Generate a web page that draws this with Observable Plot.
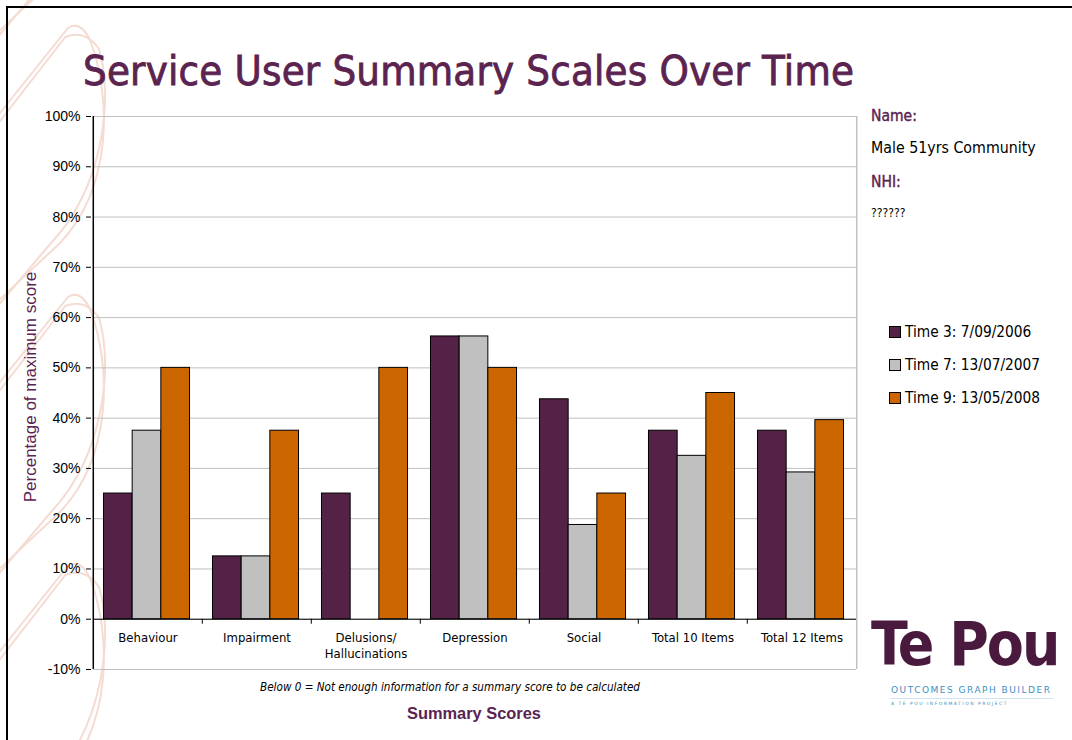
<!DOCTYPE html>
<html>
<head>
<meta charset="utf-8">
<script src="https://cdn.jsdelivr.net/npm/d3@7"></script>
<script src="https://cdn.jsdelivr.net/npm/@observablehq/plot@0.6"></script>
<style>
  html, body { margin: 0; padding: 0; background: #fff; }
  body { width: 1072px; height: 740px; position: relative; overflow: hidden; font-family: "DejaVu Sans", sans-serif; }
  #deco { position: absolute; left: 0; top: 0; }
  #border { position: absolute; left: 6px; top: 6px; width: 1200px; height: 900px; border: 2px solid #000; box-sizing: border-box; }
  #title { position: absolute; left: 83px; top: 47px; margin: 0; font-family: "DejaVu Sans Condensed", "DejaVu Sans", sans-serif; font-weight: normal; font-size: 41.5px; line-height: 48px; color: #5b2350; white-space: nowrap; letter-spacing: 0.2px; -webkit-text-stroke: 0.8px #5b2350; }
  #chart { position: absolute; left: 0; top: 100px; }
  #ylabel { position: absolute; left: 31px; top: 387px; transform: translate(-50%, -50%) rotate(-90deg); font-family: "Liberation Sans", Arial, sans-serif; font-size: 17px; color: #5b2350; white-space: nowrap; }
  #caption { position: absolute; left: 450px; top: 680px; transform: translateX(-50%); font-family: "DejaVu Sans Condensed", "DejaVu Sans", sans-serif; font-style: italic; font-size: 11.6px; color: #000; white-space: nowrap; }
  #xlabel { position: absolute; left: 474px; top: 704px; transform: translateX(-50%); font-family: "Liberation Sans", Arial, sans-serif; font-weight: bold; font-size: 16.4px; color: #5b2350; white-space: nowrap; }
  .info { position: absolute; left: 871px; white-space: nowrap; font-family: "DejaVu Sans Condensed", "DejaVu Sans", sans-serif; }
  .info.head { color: #5b2350; font-size: 15.5px; -webkit-text-stroke: 0.4px #5b2350; }
  .info.val { color: #000; font-size: 15.8px; }
  #legend { position: absolute; left: 889px; top: 322px; font-family: "DejaVu Sans Condensed", "DejaVu Sans", sans-serif; font-size: 15.3px; }
  .lg { display: flex; align-items: center; height: 33px; line-height: 18px; white-space: nowrap; }
  .lg:first-child { margin-top: -7px; }
  .sw { width: 10px; height: 10px; border: 1px solid #000; margin-right: 4px; flex: none; }
  #logo { position: absolute; left: 871px; top: 614px; }
  #tepou { font-family: "DejaVu Sans Condensed", "DejaVu Sans", sans-serif; font-weight: bold; font-size: 60px; color: #4a1a3e; letter-spacing: -2px; line-height: 60px; }
  #ogb { margin-left: 20px; font-family: "DejaVu Sans", sans-serif; font-size: 9px; color: #3d8fc4; letter-spacing: 1.5px; margin-top: 11px; white-space: nowrap; }
  #tpp { margin-left: 20px; font-family: "DejaVu Sans", sans-serif; font-size: 4.5px; color: #3d8fc4; letter-spacing: 1.5px; margin-top: 3px; border-top: 1px solid #cfe3f0; padding-top: 2px; width: 162px; white-space: nowrap; }
</style>
</head>
<body>
<svg id="deco" width="130" height="740"></svg>
<div id="border"></div>
<h1 id="title">Service User Summary Scales Over Time</h1>
<div id="chart"></div>
<div id="ylabel">Percentage of maximum score</div>
<div id="caption">Below 0 = Not enough information for a summary score to be calculated</div>
<div id="xlabel">Summary Scores</div>
<div class="info head" style="top:107px">Name:</div>
<div class="info val" style="top:138px">Male 51yrs Community</div>
<div class="info head" style="top:173px">NHI:</div>
<div class="info val" style="top:206px;font-size:12px">??????</div>
<div id="legend"></div>
<div id="logo">
  <div id="tepou">Te Pou</div>
  <div id="ogb">OUTCOMES GRAPH BUILDER</div>
  <div id="tpp">A TE POU INFORMATION PROJECT</div>
</div>
<script>
// ---- data ----
const categories = ["Behaviour", "Impairment", "Delusions/\nHallucinations", "Depression", "Social", "Total 10 Items", "Total 12 Items"];
const series = ["Time 3: 7/09/2006", "Time 7: 13/07/2007", "Time 9: 13/05/2008"];
const time3 = [25, 12.5, 25, 56.25, 43.75, 37.5, 37.5];
const time7 = [37.5, 12.5, null, 56.25, 18.75, 32.5, 29.2];
const time9 = [50, 37.5, 50, 50, 25, 45, 39.6];
const yTicks = [-10, 0, 10, 20, 30, 40, 50, 60, 70, 80, 90, 100];
const colors = ["#542246", "#c0c0c0", "#cc6600"];

// decorative background hooks (slide template)
const deco = d3.select("#deco");
[-241, 28, 297, 566].forEach(y0 => {
  [0, 9].forEach(o => {
    deco.append("path")
      .attr("d", `M -20 ${y0 + 110 + o} L ${68 - o * 0.3} ${y0 + o} Q ${80 + o * 0.6} ${y0 - 8 + o} ${90 + o} ${y0 + 12 + o} C ${112 + o * 0.2} ${y0 + 70} ${112 - o} ${y0 + 160} ${60 - o} ${y0 + 215} L -20 ${y0 + 290 + o}`)
      .attr("fill", "none").attr("stroke", "#f5dcd3").attr("stroke-width", 2);
  });
});

const valuesBySeries = [time3, time7, time9];
const data = [];
categories.forEach((c, i) => {
  series.forEach((s, j) => {
    const v = valuesBySeries[j][i];
    if (v != null) data.push({category: c, series: s, value: v});
  });
});

const width = 870, height = 630;
const mL = 91, mR = 13;
const halfBand = (width - mL - mR) / categories.length / 2;

const chart = Plot.plot({
  width, height,
  marginLeft: mL, marginRight: mR, marginTop: 16, marginBottom: 61,
  style: {background: "transparent", overflow: "visible"},
  fx: {domain: categories, padding: 0, axis: null},
  x: {domain: series, paddingInner: 0, paddingOuter: 0.4, round: false, axis: null},
  y: {domain: [-10, 100], label: null},
  color: {domain: series, range: colors},
  marks: [
    Plot.gridY(yTicks, {stroke: "#c0c0c0", strokeOpacity: 1, strokeWidth: 1}),
    Plot.ruleX(categories.slice(-1), {fx: d => d, x: null, dx: halfBand, y1: -10, y2: 100, stroke: "#c0c0c0", strokeWidth: 1.5}),
    Plot.barY(data, {fx: "category", x: "series", y: "value", fill: "series", stroke: "#000", strokeWidth: 1, dx: -1}),
    Plot.ruleY([0], {stroke: "#000", strokeWidth: 1}),
    Plot.ruleX(categories.slice(1), {fx: d => d, x: null, dx: -halfBand, y1: 0, y2: 0, insetBottom: -5, stroke: "#000"}),
    Plot.ruleX(categories.slice(0, 1), {fx: d => d, x: null, dx: -halfBand, y1: -10, y2: 100, stroke: "#000", strokeWidth: 1.5}),
    Plot.axisY(yTicks, {tickFormat: d => d + "%", tickSize: 5, tickPadding: 6, fontSize: 14, fontFamily: "Liberation Sans, Arial, sans-serif", label: null, stroke: "#000", dx: -2}),
    Plot.text(categories, {fx: d => d, text: d => d, frameAnchor: "bottom", lineAnchor: "top", dy: -40, lineHeight: 1.3, fontSize: 13, fontFamily: "DejaVu Sans Condensed, DejaVu Sans, sans-serif", fill: "#000"})
  ]
});
document.getElementById("chart").appendChild(chart);

// legend built from the series and colours
const legend = d3.select("#legend");
series.forEach((s, j) => {
  const row = legend.append("div").attr("class", "lg");
  row.append("div").attr("class", "sw").style("background", colors[j]);
  row.append("span").text(s);
});
</script>
</body>
</html>
